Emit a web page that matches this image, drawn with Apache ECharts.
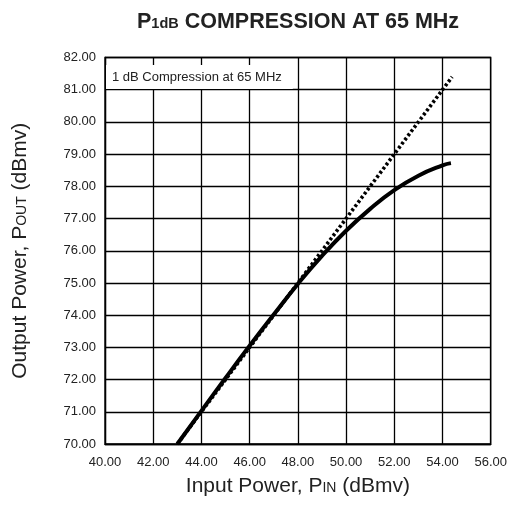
<!DOCTYPE html>
<html>
<head>
<meta charset="utf-8">
<script src="https://cdn.jsdelivr.net/npm/echarts@6/dist/echarts.min.js"></script>
<style>html,body{margin:0;padding:0;background:#fff}#c{width:510px;height:508px}</style>
</head>
<body>
<div id="c"></div>
<script>
// Data
const pinCompressed = [43, 44, 45, 46, 47, 48, 49, 50, 51, 52, 53, 54, 54.35];
const poutCompressed = [70, 71.03, 72.05, 73.05, 74.02, 74.97, 75.84, 76.62, 77.3, 77.88, 78.33, 78.65, 78.72];
const pinLinear = [43, 54.4];
const poutLinear = [70, 81.4];
const xTicks = [40, 42, 44, 46, 48, 50, 52, 54, 56];
const yTicks = [70, 71, 72, 73, 74, 75, 76, 77, 78, 79, 80, 81, 82];

const font = 'Liberation Sans, Arial, Helvetica, sans-serif';
const chart = echarts.init(document.getElementById('c'), null, {renderer: 'canvas'});
const nameRich = {
  b: {fontFamily: font, fontSize: 21, color: '#222', lineHeight: 26, verticalAlign: 'bottom'},
  s: {fontFamily: font, fontSize: 14, color: '#222', lineHeight: 26, verticalAlign: 'bottom', padding: [0, 0, 2, 0]}
};
chart.setOption({
  animation: false,
  backgroundColor: '#fff',
  title: [{
    text: '{b|P}{s|1dB}{b| COMPRESSION AT 65 MHz}',
    left: 132, top: 2,
    textStyle: {
      rich: {
        b: {fontFamily: font, fontWeight: 'bold', fontSize: 21.5, color: '#222', lineHeight: 26, verticalAlign: 'bottom'},
        s: {fontFamily: font, fontWeight: 'bold', fontSize: 14.5, color: '#222', lineHeight: 26, verticalAlign: 'bottom', padding: [0, 0, 2, 0]}
      }
    }
  }, {
    text: '1 dB Compression at 65 MHz',
    left: 106, top: 65,
    backgroundColor: '#fff',
    padding: [5, 11, 5, 6],
    textStyle: {fontFamily: font, fontWeight: 'normal', fontSize: 13, color: '#222', lineHeight: 14}
  }],
  grid: {left: 105, right: 19, top: 57.5, bottom: 64, show: true, borderColor: '#000', borderWidth: 1.3},
  xAxis: {
    type: 'value', min: xTicks[0], max: xTicks[xTicks.length - 1], interval: 2,
    name: '{b|Input Power, P}{s|IN}{b| (dBmv)}',
    nameLocation: 'middle', nameGap: 27,
    nameTextStyle: {rich: nameRich},
    axisLine: {show: true, lineStyle: {color: '#000', width: 1.3}},
    axisTick: {show: false},
    axisLabel: {margin: 12, fontFamily: font, fontSize: 13, color: '#222', formatter: v => v.toFixed(2)},
    splitLine: {show: true, lineStyle: {color: '#000', width: 1.3}}
  },
  yAxis: {
    type: 'value', min: yTicks[0], max: yTicks[yTicks.length - 1], interval: 1,
    name: '{b|Output Power, P}{s|OUT}{b| (dBmv)}',
    nameLocation: 'middle', nameGap: 74,
    nameTextStyle: {rich: nameRich},
    axisLine: {show: true, lineStyle: {color: '#000', width: 1.3}},
    axisTick: {show: false},
    axisLabel: {margin: 9, fontFamily: font, fontSize: 13, color: '#222', formatter: v => v.toFixed(2)},
    splitLine: {show: true, lineStyle: {color: '#000', width: 1.3}}
  },
  series: [{
    type: 'line',
    data: pinLinear.map((x, i) => [x, poutLinear[i]]),
    showSymbol: false, symbol: 'none',
    lineStyle: {color: '#000', width: 3.6, type: [2.8, 2.4], cap: 'butt'},
    z: 3
  }, {
    type: 'line', smooth: true,
    data: pinCompressed.map((x, i) => [x, poutCompressed[i]]),
    showSymbol: false, symbol: 'none',
    lineStyle: {color: '#000', width: 4, cap: 'butt'},
    z: 4
  }]
});
</script>
</body>
</html>
